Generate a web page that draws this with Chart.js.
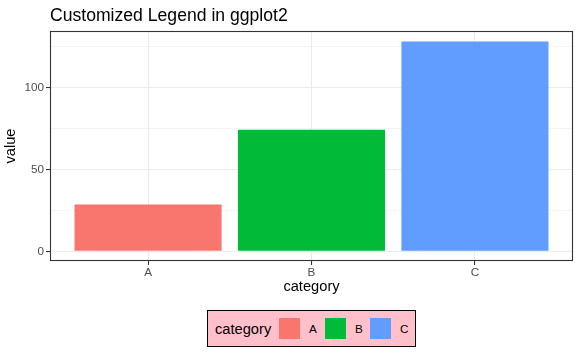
<!DOCTYPE html>
<html><head><meta charset="utf-8">
<script src="https://cdn.jsdelivr.net/npm/chart.js@4"></script>
<style>
html,body{margin:0;padding:0;background:#fff;}
#wrap{position:relative;width:581px;height:355px;font-family:"Liberation Sans",Arial,sans-serif;overflow:hidden;}
#c{position:absolute;left:0;top:0;}
#title{position:absolute;left:50px;top:7px;font-size:17.6px;line-height:17.6px;color:#000;white-space:nowrap;}
#legend{position:absolute;left:207px;top:310px;width:207px;height:35px;background:#FFC0CB;border:1px solid #000;}
#legend .lt{position:absolute;left:7px;top:10.6px;font-size:14.67px;line-height:14.67px;color:#000;white-space:nowrap;}
#legend .sw{position:absolute;top:7px;width:21px;height:21px;}
#legend .lb{position:absolute;top:12px;font-size:11.73px;line-height:11.73px;color:#000;}
</style>
</head><body>
<div id="wrap">
<canvas id="c" width="581" height="355"></canvas>
<div id="title"></div>
<div id="legend"></div>
</div>
<script>
const chartTitle = "Customized Legend in ggplot2";
const categories = ["A", "B", "C"];
const values = [28.7, 74.4, 128.3];
const colors = ["#F8766D", "#00BA38", "#619CFF"];
const xTitle = "category";
const yTitle = "value";
const legendTitle = "category";
const yMajorTicks = [0, 50, 100];
const yMinorTicks = [25, 75, 125];

document.getElementById('title').textContent = chartTitle;
const leg = document.getElementById('legend');
const lt = document.createElement('span'); lt.className = 'lt'; lt.textContent = legendTitle; leg.appendChild(lt);
const swX = [71, 117, 162], lbX = [101, 147, 192];
categories.forEach((c, i) => {
  const s = document.createElement('span'); s.className = 'sw'; s.style.left = swX[i] + 'px'; s.style.background = colors[i]; leg.appendChild(s);
  const l = document.createElement('span'); l.className = 'lb'; l.style.left = lbX[i] + 'px'; l.textContent = c; leg.appendChild(l);
});

const allYTicks = [...yMajorTicks, ...yMinorTicks].sort((a, b) => a - b);
const isMajor = v => yMajorTicks.includes(v);

const borderPlugin = {
  id: 'panelBorder',
  afterDatasetsDraw(chart) {
    const a = chart.chartArea, ctx = chart.ctx;
    ctx.save();
    ctx.strokeStyle = '#333333';
    ctx.lineWidth = 1.1;
    ctx.strokeRect(a.left + 0.5, a.top + 0.5, a.right - a.left - 1, a.bottom - a.top - 1);
    ctx.restore();
  }
};

new Chart(document.getElementById('c'), {
  type: 'bar',
  data: {
    datasets: [{
      data: categories.map((c, i) => ({ x: i + 1, y: values[i] })),
      backgroundColor: colors,
      borderWidth: 0,
      borderColor: colors,
      barPercentage: 0.9,
      categoryPercentage: 1.0
    }]
  },
  options: {
    responsive: false,
    animation: false,
    devicePixelRatio: 1,
    layout: { padding: { top: 31, right: 8, bottom: 0, left: 0 } },
    plugins: { legend: { display: false }, title: { display: false }, tooltip: { enabled: false } },
    scales: {
      x: {
        type: 'linear',
        min: 0.4, max: 3.6,
        offset: false,
        afterBuildTicks(scale) { scale.ticks = categories.map((c, i) => ({ value: i + 1 })); },
        afterFit(scale) { scale.height = 94; },
        ticks: {
          autoSkip: false, maxRotation: 0, padding: 1,
          color: '#4D4D4D',
          font: { family: '"Liberation Sans", Arial, sans-serif', size: 11.73 },
          callback: v => categories[Math.round(v) - 1] || ''
        },
        grid: { offset: false, color: '#EBEBEB', lineWidth: 1.07, tickColor: '#333333', tickLength: 4, tickWidth: 1.07 },
        border: { display: false },
        title: {
          display: true, text: xTitle, color: '#000',
          font: { family: '"Liberation Sans", Arial, sans-serif', size: 14.67 },
          padding: { top: 0, bottom: 59 }
        }
      },
      y: {
        type: 'linear',
        min: -5.9, max: 134.7,
        afterBuildTicks(scale) { scale.ticks = allYTicks.map(v => ({ value: v })); },
        afterFit(scale) { scale.width = 50; },
        ticks: {
          autoSkip: false, padding: 2,
          color: '#4D4D4D',
          font: { family: '"Liberation Sans", Arial, sans-serif', size: 11.73 },
          callback: v => isMajor(v) ? String(v) : ''
        },
        grid: {
          color: '#EBEBEB',
          lineWidth: ctx => (ctx.tick && isMajor(ctx.tick.value)) ? 1.07 : 0.55,
          tickColor: ctx => (ctx.tick && isMajor(ctx.tick.value)) ? '#333333' : 'rgba(0,0,0,0)',
          tickLength: 4, tickWidth: 1.07
        },
        border: { display: false },
        title: {
          display: true, text: yTitle, color: '#000',
          font: { family: '"Liberation Sans", Arial, sans-serif', size: 14.67 },
          padding: { top: 2, bottom: 0 }
        }
      }
    }
  },
  plugins: [borderPlugin]
});
</script>
</body></html>
